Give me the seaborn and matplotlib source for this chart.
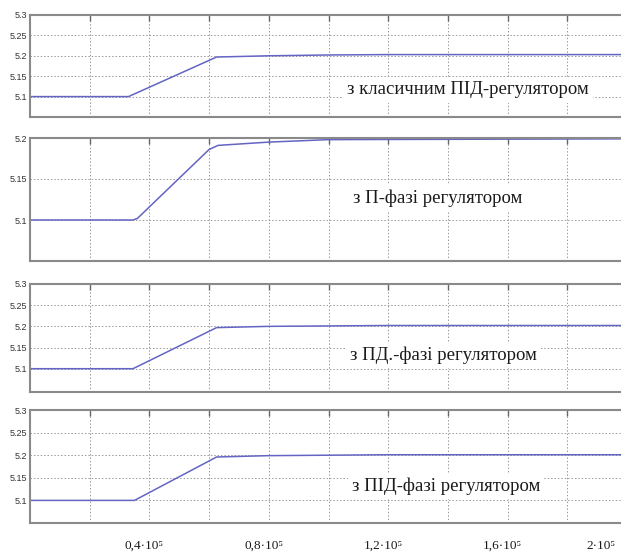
import numpy as np
import pandas as pd
import matplotlib
matplotlib.use("Agg")
import matplotlib.pyplot as plt
import matplotlib.transforms as mtransforms
import seaborn as sns

# ---- data (x in units of 1e5) ----
x_p1 = [0.0, 0.33, 0.625, 0.8, 1.0, 1.2, 2.0]
y_p1 = [5.10, 5.10, 5.197, 5.200, 5.202, 5.203, 5.203]

x_p2 = [0.0, 0.345, 0.36, 0.60, 0.63, 0.8, 1.0, 2.0]
y_p2 = [5.10, 5.10, 5.102, 5.186, 5.191, 5.195, 5.198, 5.199]

x_p3 = [0.0, 0.345, 0.625, 0.8, 1.0, 1.2, 2.0]
y_p3 = [5.10, 5.10, 5.197, 5.200, 5.201, 5.202, 5.202]

x_p4 = [0.0, 0.35, 0.625, 0.8, 1.0, 1.2, 2.0]
y_p4 = [5.10, 5.10, 5.196, 5.199, 5.200, 5.201, 5.201]

panel_labels = ["з класичним ПІД-регулятором",
                "з П-фазі регулятором",
                "з ПД.-фазі регулятором",
                "з ПІД-фазі регулятором"]

yticks_a = [5.1, 5.15, 5.2, 5.25, 5.3]
yticks_b = [5.1, 5.15, 5.2]
ytick_labels_a = ["5.1", "5.15", "5.2", "5.25", "5.3"]
ytick_labels_b = ["5.1", "5.15", "5.2"]

xticks = [0.2, 0.4, 0.6, 0.8, 1.0, 1.2, 1.4, 1.6, 1.8, 2.0]
xtick_labels = ["", "0,4·10⁵", "", "0,8·10⁵", "", "1,2·10⁵", "", "1,6·10⁵", "", "2·10⁵"]

sns.set_theme(style="white")
plt.rcParams['font.family'] = ['Liberation Sans', 'DejaVu Sans']

W, H = 621, 555
fig = plt.figure(figsize=(W / 100, H / 100), dpi=100)

def frac_rect(left_px, top_px, right_px, bottom_px):
    return [left_px / W, 1 - bottom_px / H, (right_px - left_px) / W, (bottom_px - top_px) / H]

rects = [frac_rect(30, 15, 627, 117),
         frac_rect(30, 138, 627, 261),
         frac_rect(30, 284, 627, 392),
         frac_rect(30, 410, 627, 523)]

xs = [x_p1, x_p2, x_p3, x_p4]
ys = [y_p1, y_p2, y_p3, y_p4]
ylims = [(5.05, 5.3), (5.05, 5.2), (5.045, 5.3), (5.05, 5.3)]
yt = [yticks_a, yticks_b, yticks_a, yticks_a]
ytl = [ytick_labels_a, ytick_labels_b, ytick_labels_a, ytick_labels_a]
txt_pos = [(0.734, 0.265), (0.683, 0.512), (0.692, 0.343), (0.697, 0.327)]

line_color = "#6464c4"
grid_color = "#9a9a9a"
frame_color = "#8a8a8a"

for i in range(4):
    ax = fig.add_axes(rects[i])
    df = pd.DataFrame({"x": xs[i], "y": ys[i]})
    sns.lineplot(data=df, x="x", y="y", ax=ax, color=line_color, linewidth=1.1)
    ax.set_xlim(0, 2.0)
    ax.set_ylim(*ylims[i])
    ax.set_xticks(xticks)
    ax.set_yticks(yt[i])
    ax.set_yticklabels(ytl[i])
    ax.set_xlabel("")
    ax.set_ylabel("")
    ax.grid(True, linestyle=(0, (1.5, 2)), color=grid_color, linewidth=0.7)
    ax.tick_params(axis="both", direction="in", length=4, width=1, color="#666666",
                   top=True, right=True)
    ax.tick_params(axis="y", labelsize=6.5, labelcolor="#333333", pad=2)
    for s in ax.spines.values():
        s.set_color(frame_color)
        s.set_linewidth(1.5)
    if i < 3:
        ax.set_xticklabels([""] * len(xticks))
    else:
        ax.set_xticklabels(xtick_labels, fontsize=9.5, color="#1a1a1a",
                           family=['Liberation Serif', 'DejaVu Serif'])
        ax.tick_params(axis="x", pad=12)
        labs = ax.get_xticklabels()
        for k, lab in enumerate(labs):
            dx = -26 if k == len(labs) - 1 else -5
            shift = mtransforms.ScaledTranslation(dx / 100, 0, fig.dpi_scale_trans)
            lab.set_transform(lab.get_transform() + shift)
    ax.text(txt_pos[i][0], txt_pos[i][1], panel_labels[i], transform=ax.transAxes,
            ha="center", va="center", fontsize=13.5,
            family=['Liberation Serif', 'DejaVu Serif'], color="#1a1a1a",
            bbox=dict(facecolor="white", edgecolor="none", pad=3), zorder=5)

fig.savefig("out.png", dpi=100, facecolor="white")
